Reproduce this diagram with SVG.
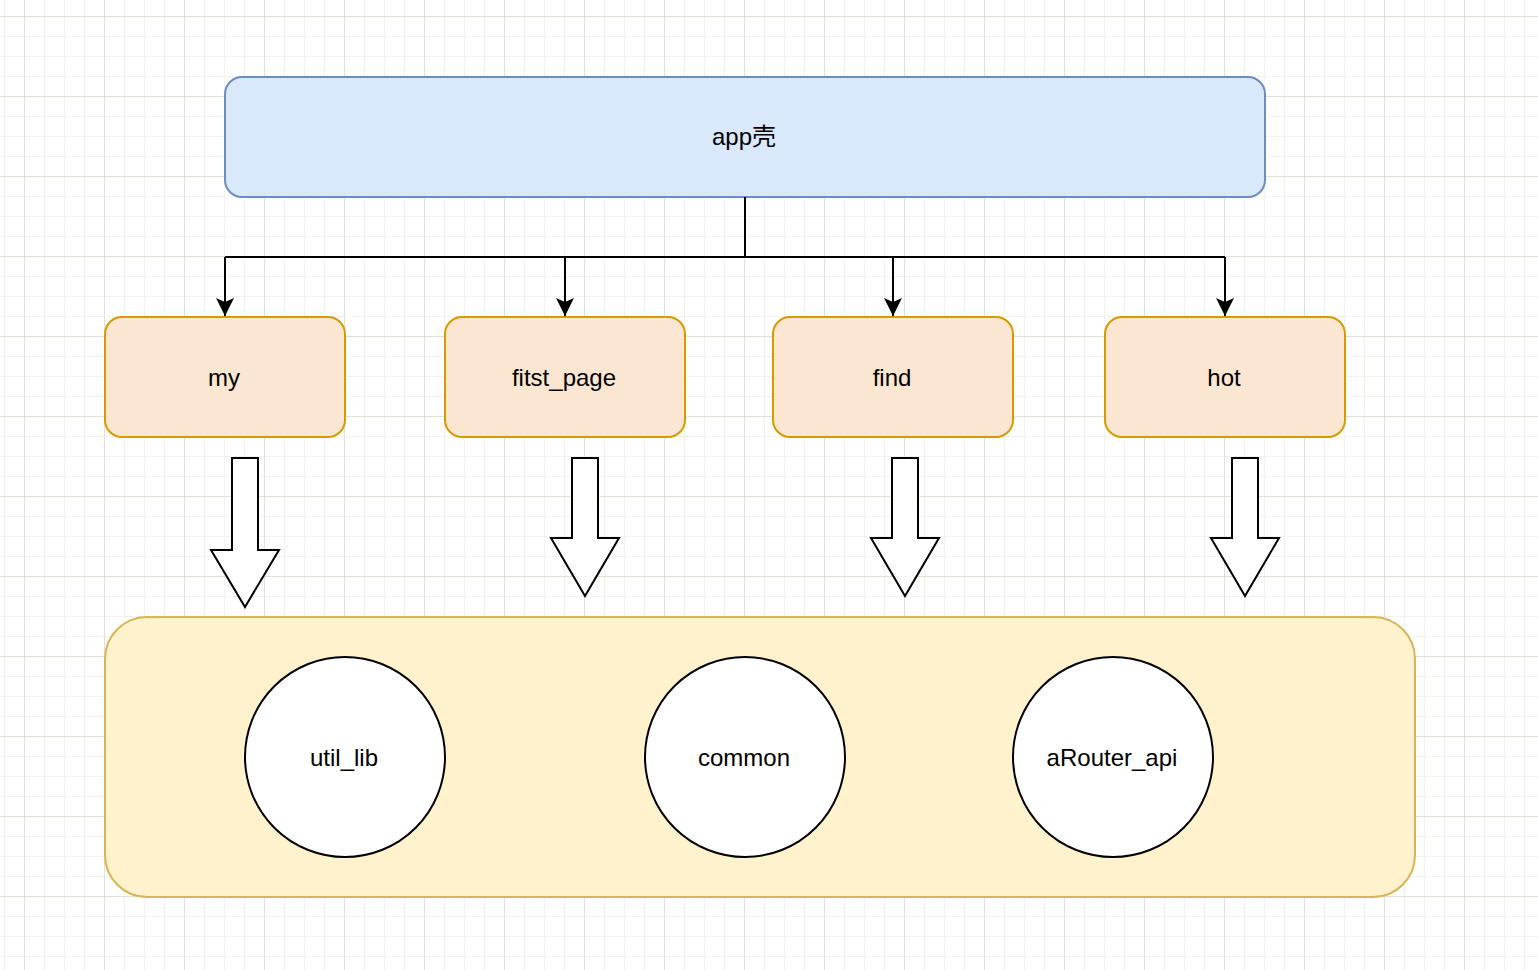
<svg xmlns="http://www.w3.org/2000/svg" width="1538" height="970" viewBox="0 0 1538 970">
  <defs>
    <pattern id="minor" x="4" y="16" width="20" height="20" patternUnits="userSpaceOnUse">
      <path d="M0 0H20M0 0V20" fill="none" stroke="#f0efe8" stroke-width="1.5"/>
    </pattern>
    <pattern id="major" x="24" y="16" width="80" height="80" patternUnits="userSpaceOnUse">
      <path d="M0 0H80M0 0V80" fill="none" stroke="#d3cfbd" stroke-width="1"/>
    </pattern>
    <marker id="ah" viewBox="0 0 20 18" refX="19" refY="9" markerWidth="20" markerHeight="18" markerUnits="userSpaceOnUse" orient="auto">
      <path d="M1 0L19 9L1 18L5 9Z" fill="#000"/>
    </marker>
  </defs>
  <style>
    .lbl{font-family:"Liberation Sans",Arial,"Noto Sans CJK SC",sans-serif;font-size:24px;fill:#000;text-anchor:middle}
    .mod{fill:#fbe6d1;stroke:#d79b00;stroke-width:2}
    .circ{fill:#fff;stroke:#000;stroke-width:2}
    .wide{fill:#fff;stroke:#000;stroke-width:2;stroke-linejoin:miter}
    .conn{fill:none;stroke:#000;stroke-width:2}
  </style>
  <rect width="1538" height="970" fill="#fff"/>
  <rect width="1538" height="970" fill="url(#minor)"/>
  <rect width="1538" height="970" fill="url(#major)"/>

  <g id="app">
    <rect x="225" y="77" width="1040" height="120" rx="17" fill="#dae8fc" stroke="#6c8ebf" stroke-width="2"/>
    <text class="lbl" x="744" y="145">app壳</text>
  </g>

  <g id="connectors">
    <path class="conn" d="M745 197V257"/>
    <path class="conn" d="M225 257H1225"/>
    <path class="conn" d="M225 257V316" marker-end="url(#ah)"/>
    <path class="conn" d="M565 257V316" marker-end="url(#ah)"/>
    <path class="conn" d="M893 257V316" marker-end="url(#ah)"/>
    <path class="conn" d="M1225 257V316" marker-end="url(#ah)"/>
  </g>

  <g id="my">
    <rect class="mod" x="105" y="317" width="240" height="120" rx="17"/>
    <text class="lbl" x="224" y="386">my</text>
  </g>
  <g id="fitst_page">
    <rect class="mod" x="445" y="317" width="240" height="120" rx="17"/>
    <text class="lbl" x="564" y="386">fitst_page</text>
  </g>
  <g id="find">
    <rect class="mod" x="773" y="317" width="240" height="120" rx="17"/>
    <text class="lbl" x="892" y="386">find</text>
  </g>
  <g id="hot">
    <rect class="mod" x="1105" y="317" width="240" height="120" rx="17"/>
    <text class="lbl" x="1224" y="386">hot</text>
  </g>

  <g id="arrow-my">
    <path class="wide" d="M232 458H258V550H279L245 607L211 550H232Z"/>
  </g>
  <g id="arrow-fitst_page">
    <path class="wide" d="M572 458H598V538H619L585 596L551 538H572Z"/>
  </g>
  <g id="arrow-find">
    <path class="wide" d="M892 458H918V538H939L905 596L871 538H892Z"/>
  </g>
  <g id="arrow-hot">
    <path class="wide" d="M1232 458H1258V538H1279L1245 596L1211 538H1232Z"/>
  </g>

  <g id="base">
    <rect x="105" y="617" width="1310" height="280" rx="42" fill="#fff2cc" stroke="#d6b656" stroke-width="2"/>
  </g>
  <g id="util_lib">
    <circle class="circ" cx="345" cy="757" r="100"/>
    <text class="lbl" x="344" y="766">util_lib</text>
  </g>
  <g id="common">
    <circle class="circ" cx="745" cy="757" r="100"/>
    <text class="lbl" x="744" y="766">common</text>
  </g>
  <g id="aRouter_api">
    <circle class="circ" cx="1113" cy="757" r="100"/>
    <text class="lbl" x="1112" y="766">aRouter_api</text>
  </g>
</svg>
